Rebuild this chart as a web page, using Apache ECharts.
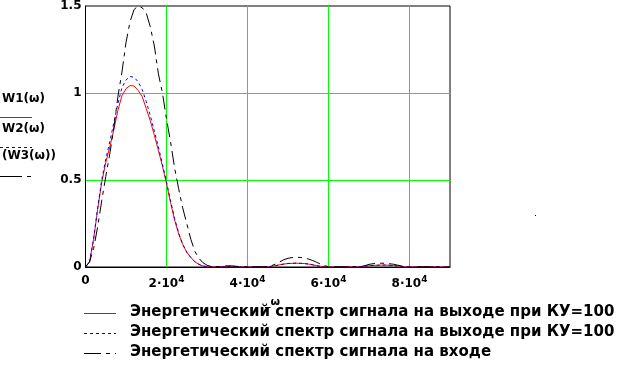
<!DOCTYPE html>
<html><head><meta charset="utf-8">
<script src="https://cdn.jsdelivr.net/npm/echarts@6/dist/echarts.min.js"></script>
<style>html,body{margin:0;padding:0;background:#fff}#c{width:624px;height:383px}</style>
</head><body><div id="c"></div>
<script>
const omega = [0,1000,2000,3000,4000,5000,6000,7000,8000,9000,10000,11000,12000,13000,14000,15000,16000,17000,18000,19000,20000,21000,22000,23000,24000,25000,26000,27000,28000,29000,30000,31000,32000,33000,34000,35000,36000,37000,38000,39000,40000,41000,42000,43000,44000,45000,46000,47000,48000,49000,50000,51000,52000,53000,54000,55000,56000,57000,58000,59000,60000,61000,62000,63000,64000,65000,66000,67000,68000,69000,70000,71000,72000,73000,74000,75000,76000,77000,78000,79000,80000,81000,82000,83000,84000,85000,86000,87000,88000,89000,90000];
const W1 = [0,0.03,0.16,0.33,0.485,0.60,0.69,0.79,0.90,0.985,1.025,1.043,1.04,1.015,0.98,0.91,0.84,0.757,0.67,0.58,0.48,0.37,0.27,0.19,0.13,0.085,0.055,0.03,0.015,0.006,0.002,0.001,0.001,0.002,0.003,0.003,0.002,0.001,0,0,0.001,0.001,0.001,0.001,0.001,0.002,0.004,0.008,0.013,0.017,0.020,0.021,0.022,0.021,0.020,0.017,0.013,0.008,0.004,0.001,0,0,0.001,0.001,0.001,0.001,0.001,0.001,0.002,0.004,0.007,0.009,0.010,0.011,0.011,0.010,0.008,0.006,0.003,0.001,0,0,0.001,0.001,0.001,0.001,0.001,0,0,0,0];
const W2 = [0,0.03,0.16,0.34,0.50,0.62,0.72,0.83,0.94,1.03,1.075,1.095,1.09,1.065,1.02,0.95,0.87,0.78,0.69,0.59,0.49,0.38,0.28,0.195,0.13,0.085,0.055,0.03,0.015,0.006,0.002,0.001,0.001,0.002,0.003,0.003,0.002,0.001,0,0,0.001,0.001,0.001,0.001,0.001,0.002,0.004,0.008,0.013,0.017,0.020,0.021,0.022,0.021,0.020,0.017,0.013,0.008,0.004,0.001,0,0,0.001,0.001,0.001,0.001,0.001,0.001,0.002,0.004,0.007,0.009,0.010,0.011,0.011,0.010,0.008,0.006,0.003,0.001,0,0,0.001,0.001,0.001,0.001,0.001,0,0,0,0];
const W3 = [0,0.03,0.105,0.23,0.38,0.52,0.65,0.80,0.98,1.12,1.29,1.41,1.48,1.50,1.49,1.46,1.38,1.27,1.11,1.00,0.85,0.72,0.57,0.45,0.34,0.25,0.16,0.09,0.05,0.025,0.01,0.003,0.001,0.002,0.005,0.007,0.007,0.005,0.002,0.001,0.001,0.001,0.001,0.001,0.001,0.003,0.008,0.018,0.030,0.042,0.050,0.054,0.056,0.055,0.052,0.046,0.038,0.028,0.017,0.008,0.002,0,0.001,0.001,0.001,0.001,0.001,0.001,0.002,0.008,0.015,0.019,0.021,0.022,0.021,0.019,0.016,0.011,0.006,0.002,0,0,0.001,0.001,0.001,0.001,0.001,0,0,0,0];
const xTickMantissa = ['0','2','4','6','8'];
const yTickLabels = ['0','0.5','1','1.5'];
const sideLabels = ['W1(ω)','W2(ω)','(W3(ω))'];
const legendNames = ['Энергетический спектр сигнала на выходе при КУ=100','Энергетический спектр сигнала на выходе при КУ=100','Энергетический спектр сигнала на входе'];
const xName = '_ω';

const colors = ['#ff0000','#0000ff','#000000'];
const dashes = ['solid',[3,3],[14,5,4,5]];
const pairs = a => omega.map((x,i)=>[x,a[i]]);
const font = 'DejaVu Sans';

const chart = echarts.init(document.getElementById('c'), null, {renderer:'canvas'});
const graphic = [];
const sideY = [101,131,158];
const sideLineY = [117.5,147.5,176.5];
sideLabels.forEach((t,i)=>{
  graphic.push({type:'text', left:2, top:sideY[i]-8, style:{text:t, font:'bold 12px '+font, fill:'#000'}});
  graphic.push({type:'line', shape:{x1:0,y1:sideLineY[i],x2:32,y2:sideLineY[i]}, style:{stroke:colors[i], lineWidth:1, lineDash: i===0?null:(i===1?[3,3]:[22,5,4,5])}});
});
const legY = [313.5,333.5,353.5];
legendNames.forEach((t,i)=>{
  graphic.push({type:'line', shape:{x1:84,y1:legY[i],x2:116,y2:legY[i]}, style:{stroke:colors[i], lineWidth:1, lineDash: i===0?null:(i===1?[3,3]:[17,5,4,5])}});
  graphic.push({type:'text', left:130, top:legY[i]-9, style:{text:t, font:'bold 15px '+font, fill:'#000'}});
});
graphic.push({type:'text', left:265, top:297, style:{text:xName, font:'bold 11px '+font, fill:'#000'}});
graphic.push({type:'rect', shape:{x:535,y:215,width:1,height:1}, style:{fill:'#000'}});

chart.setOption({
  animation:false,
  grid:{left:85.5,right:174,top:1.5,bottom:116,show:true,borderColor:'#000',borderWidth:1,backgroundColor:'#fff'},
  xAxis:{type:'value',min:0,max:90000,interval:20000,
    axisLine:{show:true,lineStyle:{color:'#000'}},axisTick:{show:false},
    splitLine:{show:true,showMinLine:false,showMaxLine:false,lineStyle:{color:'#00ff00',width:1,opacity:1}},
    axisLabel:{showMaxLabel:false,margin:8,color:'#000',fontFamily:font,fontSize:12,fontWeight:'bold',
      formatter:(v)=>{const i=Math.round(v/20000); const m=xTickMantissa[i]; return m==='0'?'{a|0}':'{a|'+m+'·10}{s|4}';},
      rich:{a:{fontFamily:font,fontSize:12,fontWeight:'bold',color:'#000'},s:{fontFamily:font,fontSize:9,fontWeight:'bold',color:'#000',padding:[0,0,9,0]}}}},
  yAxis:{type:'value',min:0,max:1.5,interval:0.5,
    axisLine:{show:true,lineStyle:{color:'#000'}},axisTick:{show:false},
    splitLine:{show:true,showMinLine:false,showMaxLine:false,lineStyle:{color:'#00ff00',width:1,opacity:1}},
    axisLabel:{margin:4,color:'#000',fontFamily:font,fontSize:12,fontWeight:'bold',formatter:(v)=>yTickLabels[Math.round(v/0.5)]}},
  series:[W1,W2,W3].map((d,i)=>({type:'line',data:pairs(d),showSymbol:false,symbol:'none',smooth:false,
    lineStyle:{color:colors[i],width:1,type:dashes[i]},z:2+i})),
  graphic
});
</script></body></html>
